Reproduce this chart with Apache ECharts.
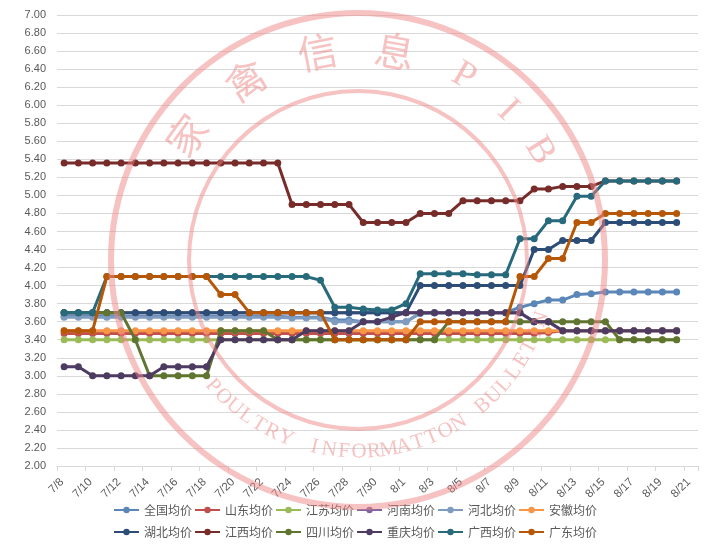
<!DOCTYPE html>
<html><head><meta charset="utf-8">
<script src="https://cdn.jsdelivr.net/npm/echarts@6/dist/echarts.min.js"></script>
<style>html,body{margin:0;padding:0;background:#fff}#c{width:710px;height:549px}</style>
</head><body><div id="c"></div>
<script>
const dates = ['7/8','7/9','7/10','7/11','7/12','7/13','7/14','7/15','7/16','7/17','7/18','7/19','7/20','7/21','7/22','7/23','7/24','7/25','7/26','7/27','7/28','7/29','7/30','7/31','8/1','8/2','8/3','8/4','8/5','8/6','8/7','8/8','8/9','8/10','8/11','8/12','8/13','8/14','8/15','8/16','8/17','8/18','8/19','8/20','8/21'];
const seriesNames = ['全国均价','山东均价','江苏均价','河南均价','河北均价','安徽均价','湖北均价','江西均价','四川均价','重庆均价','广西均价','广东均价'];
const quanguo = [3.66,3.66,3.66,3.66,3.66,3.66,3.66,3.66,3.66,3.66,3.66,3.66,3.66,3.66,3.66,3.66,3.65,3.65,3.65,3.62,3.62,3.60,3.60,3.60,3.60,3.69,3.70,3.70,3.70,3.70,3.70,3.70,3.76,3.80,3.84,3.84,3.90,3.91,3.93,3.93,3.93,3.93,3.93,3.93,null];
const shandong = [3.47,3.47,3.47,3.47,3.47,3.47,3.47,3.47,3.47,3.47,3.47,3.47,3.47,3.47,3.47,3.47,3.47,3.47,3.47,3.47,3.47,3.47,3.47,3.47,3.47,3.47,3.47,3.47,3.47,3.47,3.47,3.47,3.47,3.47,3.48,3.50,3.50,3.50,3.50,3.50,3.50,3.50,3.50,3.50,null];
const jiangsu = [3.40,3.40,3.40,3.40,3.40,3.40,3.40,3.40,3.40,3.40,3.40,3.40,3.40,3.40,3.40,3.40,3.40,3.40,3.40,3.40,3.40,3.40,3.40,3.40,3.40,3.40,3.40,3.40,3.40,3.40,3.40,3.40,3.40,3.40,3.40,3.40,3.40,3.40,3.40,3.40,3.40,3.40,3.40,3.40,null];
const henan = [3.70,3.70,3.70,3.70,3.70,3.70,3.70,3.70,3.70,3.70,3.70,3.70,3.70,3.70,3.70,3.70,3.70,3.70,3.70,3.70,3.70,3.70,3.70,3.70,3.70,3.70,3.70,3.70,3.70,3.70,3.70,3.70,3.70,3.60,3.60,3.50,3.50,3.50,3.50,3.50,3.50,3.50,3.50,3.50,null];
const hebei = [3.65,3.65,3.65,3.65,3.65,3.65,3.65,3.65,3.65,3.65,3.65,3.65,3.65,3.65,3.65,3.65,3.64,3.64,3.64,3.60,3.60,3.60,3.60,3.60,3.60,3.70,3.70,3.70,3.70,3.70,3.70,3.70,3.70,3.60,3.60,3.50,3.50,3.50,3.50,3.50,3.50,3.50,3.50,3.50,null];
const anhui = [3.50,3.50,3.50,3.50,3.50,3.50,3.50,3.50,3.50,3.50,3.50,3.50,3.50,3.50,3.50,3.50,3.50,3.50,3.50,3.50,3.50,3.50,3.50,3.50,3.50,3.50,3.50,3.50,3.50,3.50,3.50,3.50,3.50,3.50,3.50,3.50,3.50,3.50,3.50,3.50,3.50,3.50,3.50,3.50,null];
const hubei = [3.70,3.70,3.70,3.70,3.70,3.70,3.70,3.70,3.70,3.70,3.70,3.70,3.70,3.70,3.70,3.70,3.70,3.70,3.70,3.70,3.70,3.70,3.70,3.70,3.70,4.00,4.00,4.00,4.00,4.00,4.00,4.00,4.00,4.40,4.40,4.50,4.50,4.50,4.70,4.70,4.70,4.70,4.70,4.70,null];
const jiangxi = [5.36,5.36,5.36,5.36,5.36,5.36,5.36,5.36,5.36,5.36,5.36,5.36,5.36,5.36,5.36,5.36,4.90,4.90,4.90,4.90,4.90,4.70,4.70,4.70,4.70,4.80,4.80,4.80,4.94,4.94,4.94,4.94,4.94,5.07,5.07,5.10,5.10,5.10,5.16,5.16,5.16,5.16,5.16,5.16,null];
const sichuan = [3.70,3.70,3.70,3.70,3.70,3.40,3.00,3.00,3.00,3.00,3.00,3.50,3.50,3.50,3.50,3.40,3.40,3.40,3.40,3.40,3.40,3.40,3.40,3.40,3.40,3.40,3.40,3.60,3.60,3.60,3.60,3.60,3.60,3.60,3.60,3.60,3.60,3.60,3.60,3.40,3.40,3.40,3.40,3.40,null];
const chongqing = [3.10,3.10,3.00,3.00,3.00,3.00,3.00,3.10,3.10,3.10,3.10,3.40,3.40,3.40,3.40,3.40,3.40,3.50,3.50,3.50,3.50,3.60,3.60,3.65,3.70,3.70,3.70,3.70,3.70,3.70,3.70,3.70,3.70,3.60,3.60,3.50,3.50,3.50,3.50,3.50,3.50,3.50,3.50,3.50,null];
const guangxi = [3.70,3.70,3.70,4.10,4.10,4.10,4.10,4.10,4.10,4.10,4.10,4.10,4.10,4.10,4.10,4.10,4.10,4.10,4.06,3.76,3.76,3.74,3.73,3.73,3.80,4.13,4.13,4.13,4.13,4.12,4.12,4.12,4.52,4.52,4.72,4.72,4.99,4.99,5.16,5.16,5.16,5.16,5.16,5.16,null];
const guangdong = [3.50,3.50,3.50,4.10,4.10,4.10,4.10,4.10,4.10,4.10,4.10,3.90,3.90,3.70,3.70,3.70,3.70,3.70,3.70,3.40,3.40,3.40,3.40,3.40,3.40,3.60,3.60,3.60,3.60,3.60,3.60,3.60,4.10,4.10,4.30,4.30,4.70,4.70,4.80,4.80,4.80,4.80,4.80,4.80,null];
const allValues = [quanguo,shandong,jiangsu,henan,hebei,anhui,hubei,jiangxi,sichuan,chongqing,guangxi,guangdong];
const colors = ['#5b86b8','#c0504d','#9bbb59','#8064a2','#7f9cc0','#f79646','#2c4d75','#772c2a','#5f7530','#4d3b62','#276a7c','#b65708'];
const topText = '家禽信息PIB';
const bottomText = 'POULTRY INFORMATTON BULLETIN';

const chart = echarts.init(document.getElementById('c'));

// watermark stamp
const wm = [];
const cx = 358, cy = 260;
const pink = '#ee8585';
wm.push({type:'ring', shape:{cx:cx, cy:cy, r:250, r0:244}, style:{fill:pink, opacity:0.5}, silent:true, z:100});
wm.push({type:'ring', shape:{cx:cx, cy:cy, r:171, r0:167}, style:{fill:pink, opacity:0.5}, silent:true, z:100});
const topAngles = [-144,-122,-101,-80,-60,-45,-31];
for (let k = 0; k < topText.length; k++) {
  const a = topAngles[k] * Math.PI / 180;
  const r = 212;
  wm.push({type:'text', x: cx + r*Math.cos(a), y: cy + r*Math.sin(a), rotation: -(a + Math.PI/2),
    style:{text: topText[k], fill: pink, opacity:0.5, fontSize: k < 4 ? 40 : 38,
      fontFamily: k < 4 ? 'Noto Sans CJK SC' : 'Liberation Serif', align:'center', verticalAlign:'middle'},
    silent:true, z:100});
}
const n = bottomText.length;
for (let k = 0; k < n; k++) {
  if (bottomText[k] === ' ') continue;
  const deg = 139 - k * (121 / (n - 1));
  const a = deg * Math.PI / 180;
  const r = 192;
  wm.push({type:'text', x: cx + r*Math.cos(a), y: cy + r*Math.sin(a), rotation: -(a - Math.PI/2),
    style:{text: bottomText[k], fill: pink, opacity:0.5, fontSize: 21, fontFamily:'Liberation Serif',
      align:'center', verticalAlign:'middle'}, silent:true, z:100});
}

const series = seriesNames.map((name, idx) => ({
  name: name,
  type: 'line',
  data: allValues[idx],
  symbol: 'circle',
  symbolSize: 7,
  showSymbol: true,
  lineStyle: {width: 3, color: colors[idx]},
  itemStyle: {color: colors[idx]},
  emphasis: {disabled: true},
  z: 2 + idx
}));

const legendText = {fontSize: 12, color: '#595959', fontFamily: 'Noto Sans CJK SC'};
chart.setOption({
  animation: false,
  backgroundColor: '#fff',
  color: colors,
  grid: {left: 57, right: 12, top: 15, bottom: 83, containLabel: false},
  legend: [
    {data: seriesNames.slice(0, 6), top: 499, left: 'center', itemWidth: 25, itemHeight: 8, itemGap: 2, textStyle: legendText},
    {data: seriesNames.slice(6), top: 521, left: 'center', itemWidth: 25, itemHeight: 8, itemGap: 2, textStyle: legendText}
  ],
  xAxis: {
    type: 'category',
    data: dates,
    boundaryGap: true,
    axisLine: {lineStyle: {color: '#d9d9d9'}},
    axisTick: {show: true, interval: 1, length: 5, lineStyle: {color: '#d9d9d9'}},
    axisLabel: {interval: 1, rotate: 45, fontSize: 11.5, color: '#595959', margin: 12, padding: [0, 3, 0, 0], fontFamily: 'Liberation Sans'}
  },
  yAxis: {
    type: 'value',
    min: 2, max: 7, interval: 0.2,
    axisLine: {show: false},
    axisTick: {show: false},
    splitLine: {lineStyle: {color: '#d9d9d9', width: 1}},
    axisLabel: {formatter: v => v.toFixed(2), fontSize: 11, color: '#595959', margin: 11, fontFamily: 'Liberation Sans'}
  },
  graphic: {elements: wm},
  series: series
});
</script>
</body></html>
